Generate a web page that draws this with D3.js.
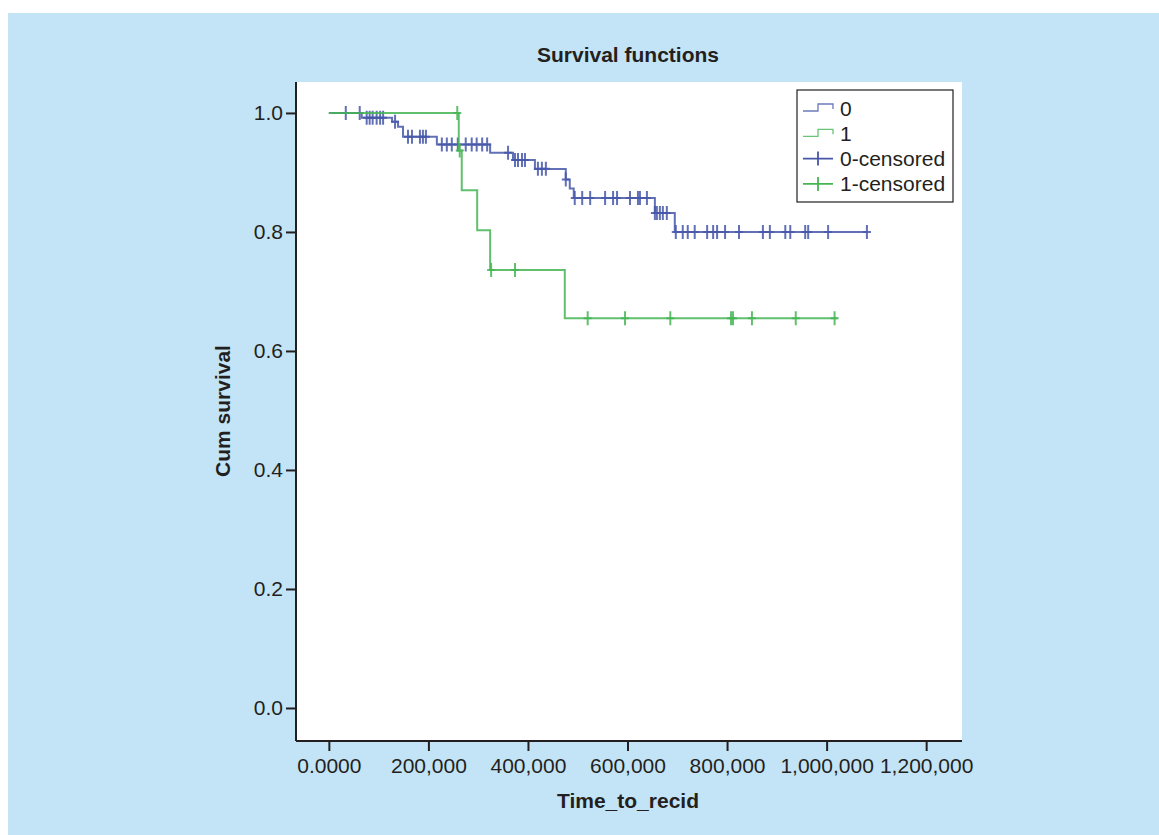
<!DOCTYPE html>
<html>
<head>
<meta charset="utf-8">
<script src="https://cdn.jsdelivr.net/npm/d3@7"></script>
<style>
  body { margin: 0; background: #fff; }
  text { font-family: "Liberation Sans", Arial, sans-serif; fill: #231f20; }
</style>
</head>
<body>
<svg></svg>
<script>
// Data
const xTicks = [0, 200000, 400000, 600000, 800000, 1000000, 1200000];
const yTicks = [0, 0.2, 0.4, 0.6, 0.8, 1.0];

// group 0: event times and survival after each step
const group0Times = [66000, 127000, 139000, 149000, 217000, 324000, 370000, 414000, 476000, 484000, 492000, 655000, 695000];
const group0Surv = [0.992, 0.985, 0.977, 0.960, 0.947, 0.933, 0.921, 0.906, 0.888, 0.873, 0.857, 0.832, 0.800];
const group0End = 1082000;
const group0Censored = [34000, 62000, 76000, 82000, 88000, 96000, 103000, 109000, 133000, 159000, 167000, 183000,
  189000, 195000, 227000, 237000, 247000, 259000, 275000, 287000, 297000, 308000, 318000, 360000, 374000, 380000,
  388000, 394000, 420000, 428000, 436000, 476000, 494000, 509000, 525000, 555000, 571000, 579000, 605000, 621000,
  625000, 639000, 655000, 659000, 665000, 671000, 679000, 697000, 711000, 721000, 735000, 760000, 772000, 780000,
  796000, 824000, 872000, 886000, 917000, 927000, 957000, 963000, 1003000, 1081000];

// group 1
const group1Times = [261000, 267000, 298000, 324000, 474000];
const group1Surv = [0.937, 0.870, 0.803, 0.736, 0.655];
const group1End = 1022000;
const group1Censored = [258000, 263000, 326000, 374000, 520000, 595000, 686000, 808000, 812000, 850000, 938000, 1016000];

const blue = "#4657a9";
const green = "#45b553";
const fontSize = 21;

// Sizes
const W = 1159, H = 835;
const plot = { l: 296, r: 962, t: 82, b: 741 };

const svg = d3.select("svg")
  .attr("width", W)
  .attr("height", H);

// Background
svg.append("rect")
  .attr("x", 8).attr("y", 13)
  .attr("width", W - 8).attr("height", H - 13)
  .attr("fill", "#c3e4f6");

svg.append("rect")
  .attr("x", plot.l).attr("y", plot.t)
  .attr("width", plot.r - plot.l).attr("height", plot.b - plot.t)
  .attr("fill", "#fff");

// Scales
const xScale = d3.scaleLinear()
  .domain([-66000, 1272000])
  .range([plot.l, plot.r]);

const yScale = d3.scaleLinear()
  .domain([-0.0555, 1.052])
  .range([plot.b, plot.t]);

// Axes
const xAxis = svg.append("g")
  .attr("transform", `translate(0, ${plot.b})`)
  .call(d3.axisBottom(xScale)
    .tickValues(xTicks)
    .tickSize(10)
    .tickPadding(7)
    .tickSizeOuter(0)
    .tickFormat(d => d === 0 ? "0.0000" : d3.format(",")(d)));

const yAxis = svg.append("g")
  .attr("transform", `translate(${plot.l}, 0)`)
  .call(d3.axisLeft(yScale)
    .tickValues(yTicks)
    .tickSize(10)
    .tickPadding(3)
    .tickSizeOuter(0)
    .tickFormat(d3.format(".1f")));

[xAxis, yAxis].forEach(g => {
  g.select(".domain").attr("stroke", "#231f20").attr("stroke-width", 2);
  g.selectAll(".tick line").attr("stroke", "#231f20").attr("stroke-width", 2);
  g.selectAll(".tick text")
    .attr("font-size", fontSize)
    .attr("font-family", "Liberation Sans, Arial, sans-serif")
    .attr("fill", "#231f20");
});
xAxis.select(".domain").attr("d", `M${plot.l},0H${plot.r}`);
yAxis.select(".domain").attr("d", `M0,${plot.t}V${plot.b}`);

// Curves
const stepLine = d3.line()
  .x(d => xScale(d[0]))
  .y(d => yScale(d[1]))
  .curve(d3.curveStepAfter);

const survAt = (times, surv, t) => {
  const i = d3.bisectRight(times, t);
  return i === 0 ? 1 : surv[i - 1];
};

const drawGroup = (times, surv, end, censored, color) => {
  const pts = [[0, 1]].concat(times.map((t, i) => [t, surv[i]]));
  pts.push([end, surv[surv.length - 1]]);
  svg.append("path")
    .attr("d", stepLine(pts))
    .attr("fill", "none")
    .attr("stroke", color)
    .attr("stroke-width", 2)
    .attr("stroke-opacity", 0.85);

  const marks = svg.append("g")
    .attr("stroke", color)
    .attr("stroke-width", 2)
    .attr("stroke-opacity", 0.85);
  censored.forEach(t => {
    const cx = xScale(t), cy = yScale(survAt(times, surv, t));
    marks.append("path").attr("d", `M${cx},${cy - 7}V${cy + 7}M${cx - 4},${cy}H${cx + 4}`);
  });
};

drawGroup(group0Times, group0Surv, group0End, group0Censored, blue);
drawGroup(group1Times, group1Surv, group1End, group1Censored, green);

// Titles
svg.append("text")
  .attr("x", 628).attr("y", 62)
  .attr("text-anchor", "middle")
  .attr("font-size", fontSize).attr("font-weight", "bold")
  .text("Survival functions");

svg.append("text")
  .attr("x", 628).attr("y", 808)
  .attr("text-anchor", "middle")
  .attr("font-size", fontSize).attr("font-weight", "bold")
  .text("Time_to_recid");

svg.append("text")
  .attr("transform", "translate(230, 411) rotate(-90)")
  .attr("text-anchor", "middle")
  .attr("font-size", fontSize).attr("font-weight", "bold")
  .text("Cum survival");

// Legend
const legendItems = [
  { label: "0", color: blue, kind: "step" },
  { label: "1", color: green, kind: "step" },
  { label: "0-censored", color: blue, kind: "cross" },
  { label: "1-censored", color: green, kind: "cross" }
];

const legend = svg.append("g");
legend.append("rect")
  .attr("x", 797).attr("y", 90)
  .attr("width", 156).attr("height", 112)
  .attr("fill", "#fff")
  .attr("stroke", "#231f20")
  .attr("stroke-width", 1.2);

legendItems.forEach((d, i) => {
  const cy = 108 + i * 25.3;
  if (d.kind === "step") {
    legend.append("path")
      .attr("d", `M803,${cy + 3}H818V${cy - 4}H833V${cy + 1}`)
      .attr("fill", "none")
      .attr("stroke", d.color)
      .attr("stroke-width", 1.3)
      .attr("stroke-opacity", 0.8);
  } else {
    legend.append("path")
      .attr("d", `M803,${cy}H833M818,${cy - 7}V${cy + 7}`)
      .attr("stroke", d.color)
      .attr("stroke-width", 1.8);
  }
  legend.append("text")
    .attr("x", 840).attr("y", cy + 7.5)
    .attr("font-size", fontSize)
    .text(d.label);
});
</script>
</body>
</html>
